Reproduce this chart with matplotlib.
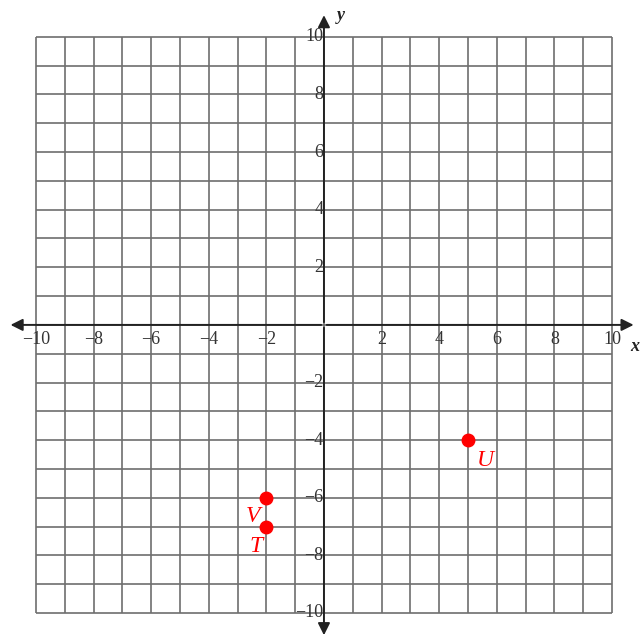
import matplotlib.pyplot as plt
import numpy as np

# coordinate plane data
x_min, x_max = -10, 10
y_min, y_max = -10, 10
tick_vals = [-10, -8, -6, -4, -2, 2, 4, 6, 8, 10]

point_names = ['U', 'V', 'T']
point_x = [5, -2, -2]
point_y = [-4, -6, -7]
# label offsets (data units) relative to each point
label_dx = [0.6, -0.45, -0.35]
label_dy = [-0.7, -0.65, -0.7]

fig = plt.figure(figsize=(6.41, 6.38), dpi=100)
ax = fig.add_axes([0, 0, 1, 1])
ax.set_xlim(-11.25, 11.01)
ax.set_ylim(-10.87, 11.28)
ax.axis('off')

grid = np.arange(x_min, x_max + 1)
ax.vlines(grid, y_min, y_max, color='#6e6e6e', lw=1.2, zorder=1)
ax.hlines(grid, x_min, x_max, color='#6e6e6e', lw=1.2, zorder=1)

# axes with arrows
arrow = dict(arrowstyle='-|>', color='#222222', lw=1.4, mutation_scale=18)
ax.annotate('', xy=(10.85, 0), xytext=(0, 0), arrowprops=arrow, zorder=3)
ax.annotate('', xy=(-10.98, 0), xytext=(0, 0), arrowprops=arrow, zorder=3)
ax.annotate('', xy=(0, 10.85), xytext=(0, 0), arrowprops=arrow, zorder=3)
ax.annotate('', xy=(0, -10.87), xytext=(0, 0), arrowprops=arrow, zorder=3)

font = 'Liberation Serif'
for v in tick_vals:
    lab = '\u2212%d' % -v if v < 0 else str(v)
    ax.text(v, -0.2, lab, ha='center', va='top',
            fontsize=13, family=font, color='#333333', zorder=4)
    ax.text(-0.02, v, lab, ha='right', va='center',
            fontsize=13, family=font, color='#333333', zorder=4)

ax.text(10.65, -0.45, 'x', ha='left', va='top', fontsize=13, family=font,
        style='italic', weight='bold', color='#222222')
ax.text(0.45, 10.75, 'y', ha='left', va='center', fontsize=13, family=font,
        style='italic', weight='bold', color='#222222')

ax.plot(point_x, point_y, 'o', color='red', markersize=9, zorder=5)
for name, px, py, dx, dy in zip(point_names, point_x, point_y, label_dx, label_dy):
    ax.text(px + dx, py + dy, name, ha='center', va='center', fontsize=17,
            family=font, style='italic', color='red', zorder=5)

fig.savefig('out.png', dpi=100)
